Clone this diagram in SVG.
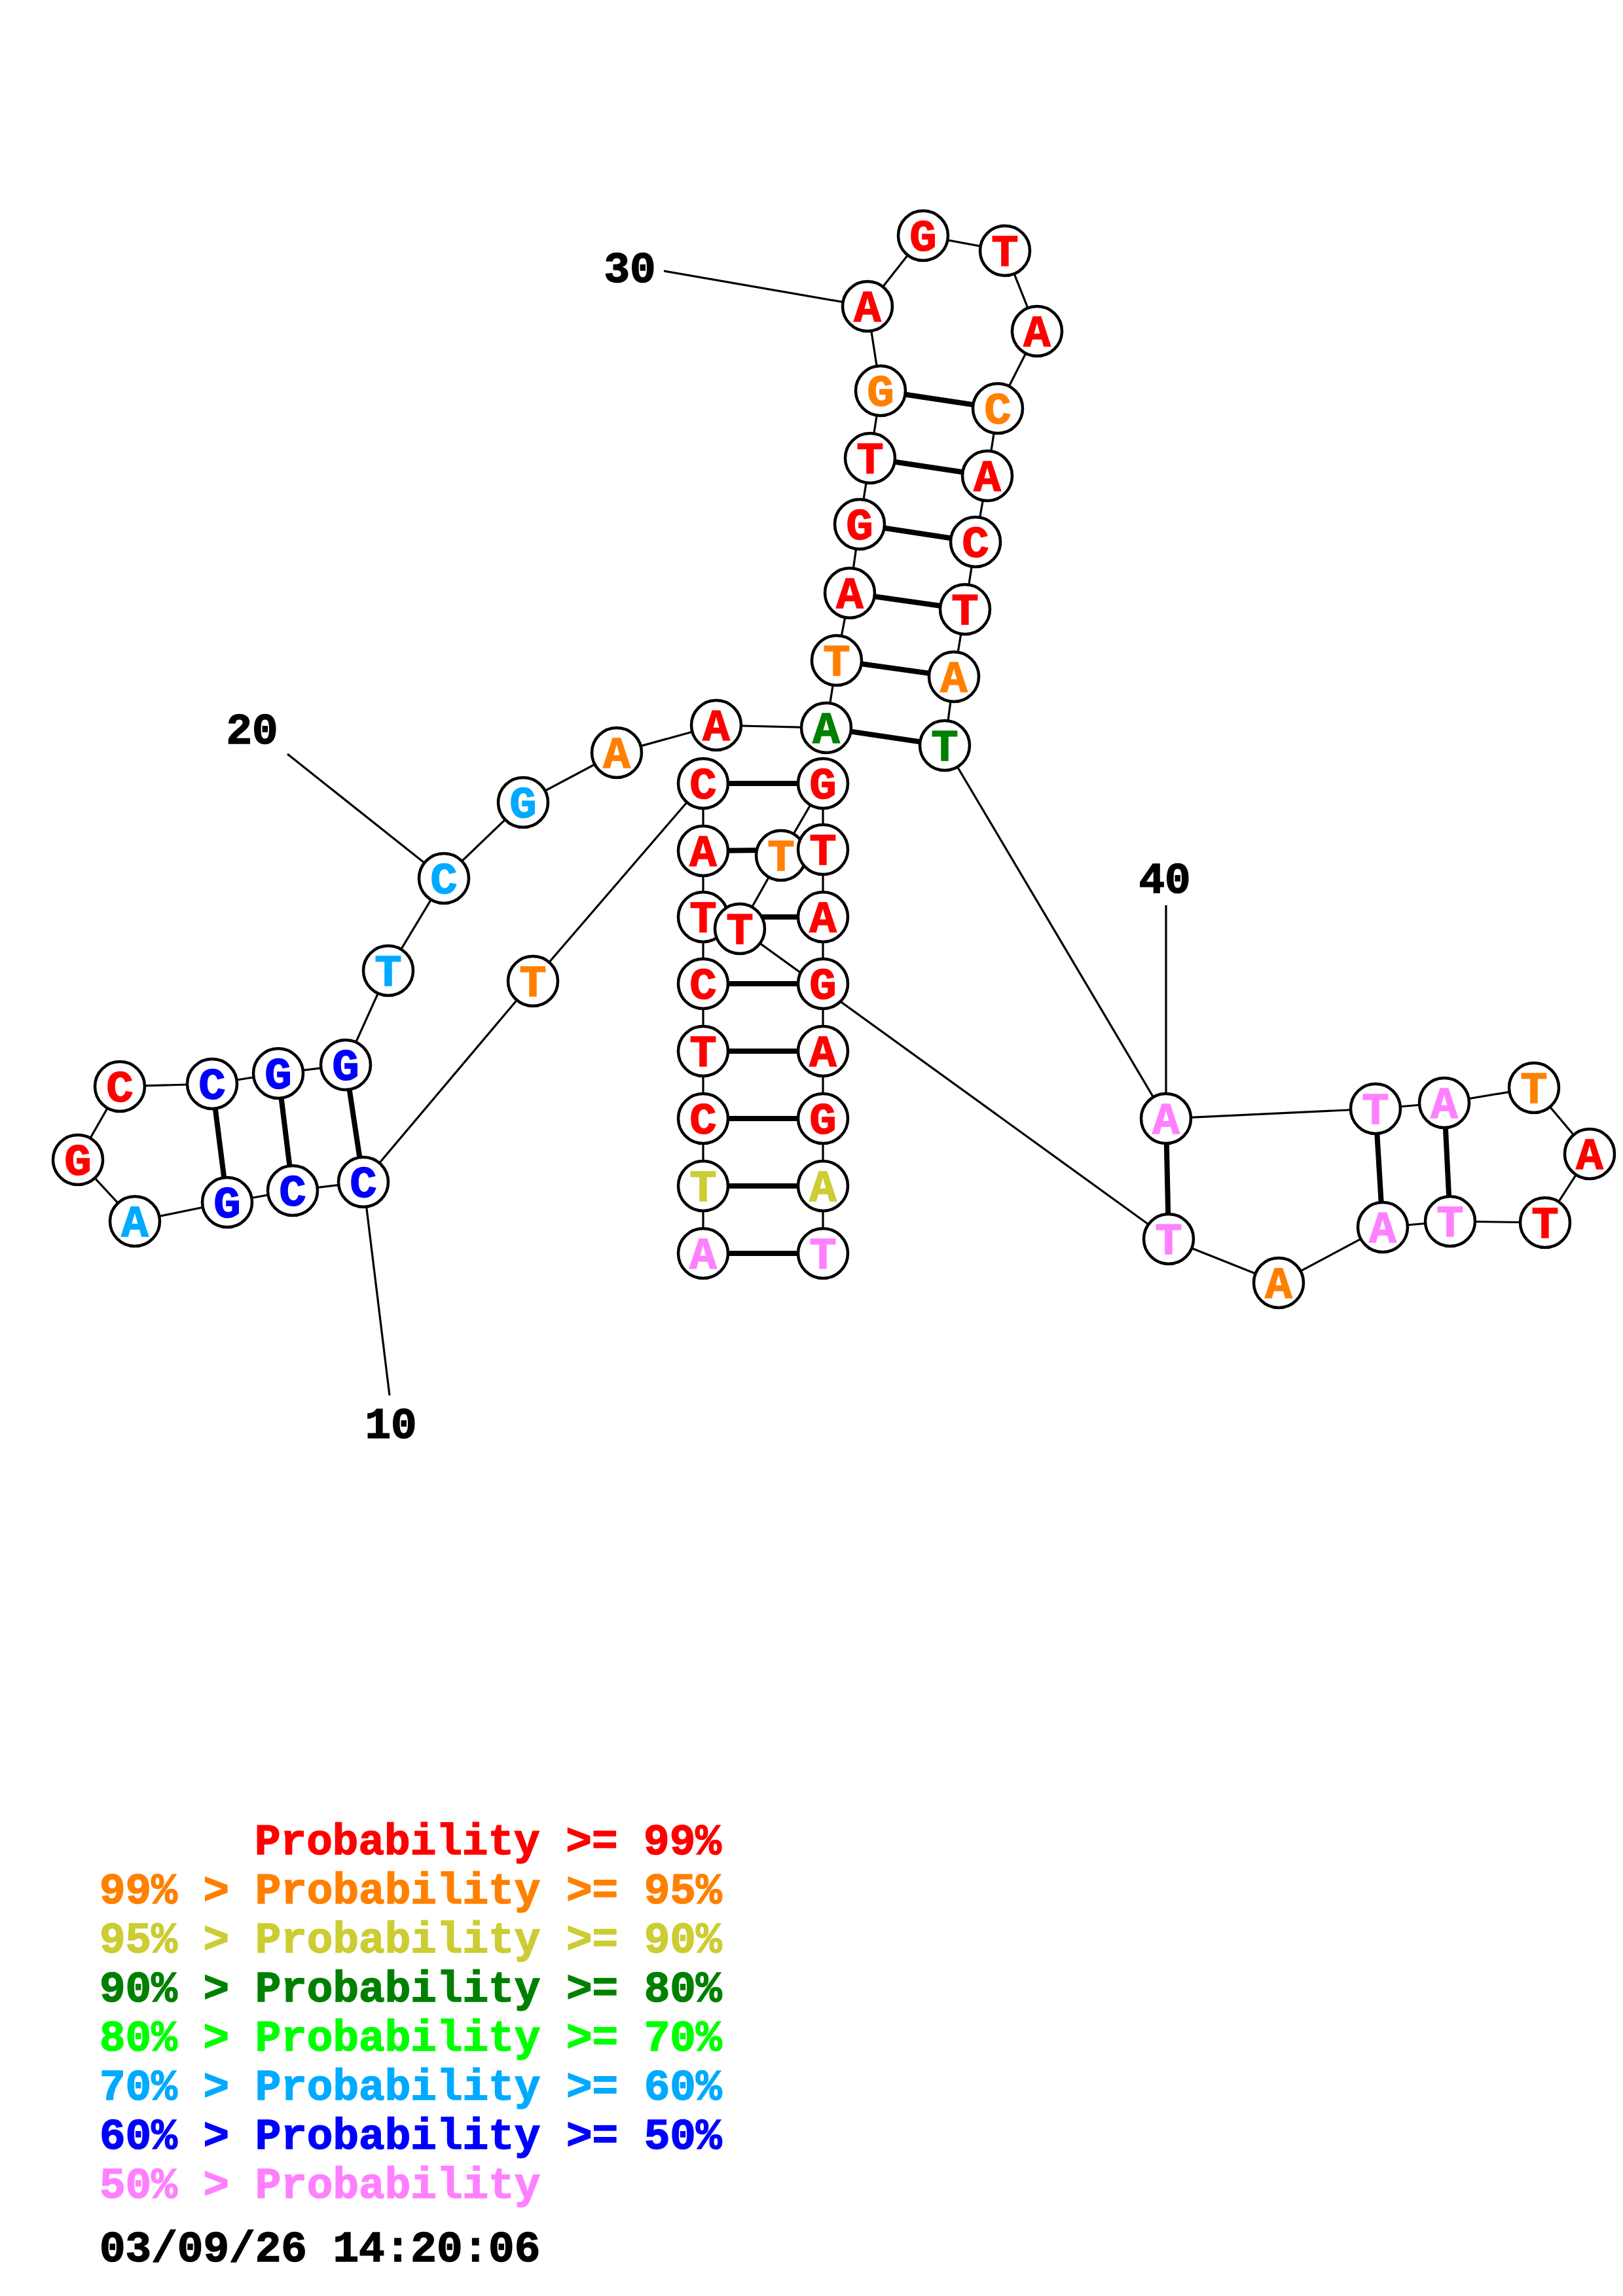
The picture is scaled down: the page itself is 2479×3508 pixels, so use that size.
<svg xmlns="http://www.w3.org/2000/svg" width="2479" height="3508" viewBox="0 0 2479 3508">
<style>
text{font-family:"Liberation Mono","Courier New",monospace;font-weight:bold;font-size:66px;stroke-width:1.5}
.n text{text-anchor:middle;font-size:69px}
.n circle{fill:#fff;stroke:#000;stroke-width:4.5}
.bb{stroke:#000;stroke-width:3.2;fill:none}
.bp{stroke:#000;stroke-width:8;fill:none}
.r{fill:#ff0000;stroke:#ff0000}.o{fill:#ff8000;stroke:#ff8000}.y{fill:#cccc33;stroke:#cccc33}.g{fill:#008000;stroke:#008000}.lg{fill:#00ff00;stroke:#00ff00}.lb{fill:#00aaff;stroke:#00aaff}.b{fill:#0000ff;stroke:#0000ff}.p{fill:#ff80ff;stroke:#ff80ff}.k{fill:#000;stroke:#000}
</style>
<rect width="2479" height="3508" fill="#fff"/>
<g id="connectors">
<g class="bb">
<polyline points="1074,1915 1074,1812 1074,1709 1074,1606 1074,1503 1074,1401 1074,1300 1074,1197 814,1499 555,1806 447,1819 347,1837 206,1866 119,1772 183,1660 324,1656 425,1640 528,1627 593,1483 678,1342 799,1226 942,1150 1094,1108 1262,1112 1278,1009 1298,906 1313,801 1329,700 1345,597 1325,468 1410,360 1535,383 1584,506 1524,624 1508,727 1490,828 1474,931 1457,1034 1443,1139 1781,1709 2101,1694 2206,1685 2343,1662 2428,1763 2360,1868 2215,1866 2112,1875 1953,1960 1785,1893 1130,1419 1193,1307 1257,1197 1257,1298 1257,1401 1257,1503 1257,1606 1257,1709 1257,1812 1257,1915"/>
<line x1="1014" y1="414" x2="1325" y2="468"/>
<line x1="439" y1="1152" x2="678" y2="1342"/>
<line x1="595" y1="2132" x2="555" y2="1806"/>
<line x1="1781" y1="1383" x2="1781" y2="1709"/>
</g>
<g class="bp">
<line x1="1074" y1="1197" x2="1257" y2="1197"/>
<line x1="1074" y1="1300" x2="1257" y2="1298"/>
<line x1="1074" y1="1401" x2="1257" y2="1401"/>
<line x1="1074" y1="1503" x2="1257" y2="1503"/>
<line x1="1074" y1="1606" x2="1257" y2="1606"/>
<line x1="1074" y1="1709" x2="1257" y2="1709"/>
<line x1="1074" y1="1812" x2="1257" y2="1812"/>
<line x1="1074" y1="1915" x2="1257" y2="1915"/>
<line x1="555" y1="1806" x2="528" y2="1627"/>
<line x1="447" y1="1819" x2="425" y2="1640"/>
<line x1="347" y1="1837" x2="324" y2="1656"/>
<line x1="1262" y1="1112" x2="1443" y2="1139"/>
<line x1="1278" y1="1009" x2="1457" y2="1034"/>
<line x1="1298" y1="906" x2="1474" y2="931"/>
<line x1="1313" y1="801" x2="1490" y2="828"/>
<line x1="1329" y1="700" x2="1508" y2="727"/>
<line x1="1345" y1="597" x2="1524" y2="624"/>
<line x1="1781" y1="1709" x2="1785" y2="1893"/>
<line x1="2101" y1="1694" x2="2112" y2="1875"/>
<line x1="2206" y1="1685" x2="2215" y2="1866"/>
</g>
</g>
<g id="n1" class="n"><circle cx="1074" cy="1915" r="38"/><text x="1074" y="1938" class="p">A</text></g>
<g id="n2" class="n"><circle cx="1074" cy="1812" r="38"/><text x="1074" y="1835" class="y">T</text></g>
<g id="n3" class="n"><circle cx="1074" cy="1709" r="38"/><text x="1074" y="1732" class="r">C</text></g>
<g id="n4" class="n"><circle cx="1074" cy="1606" r="38"/><text x="1074" y="1629" class="r">T</text></g>
<g id="n5" class="n"><circle cx="1074" cy="1503" r="38"/><text x="1074" y="1526" class="r">C</text></g>
<g id="n6" class="n"><circle cx="1074" cy="1401" r="38"/><text x="1074" y="1424" class="r">T</text></g>
<g id="n7" class="n"><circle cx="1074" cy="1300" r="38"/><text x="1074" y="1323" class="r">A</text></g>
<g id="n8" class="n"><circle cx="1074" cy="1197" r="38"/><text x="1074" y="1220" class="r">C</text></g>
<g id="n9" class="n"><circle cx="814" cy="1499" r="38"/><text x="814" y="1522" class="o">T</text></g>
<g id="n10" class="n"><circle cx="555" cy="1806" r="38"/><text x="555" y="1829" class="b">C</text></g>
<g id="n11" class="n"><circle cx="447" cy="1819" r="38"/><text x="447" y="1842" class="b">C</text></g>
<g id="n12" class="n"><circle cx="347" cy="1837" r="38"/><text x="347" y="1860" class="b">G</text></g>
<g id="n13" class="n"><circle cx="206" cy="1866" r="38"/><text x="206" y="1889" class="lb">A</text></g>
<g id="n14" class="n"><circle cx="119" cy="1772" r="38"/><text x="119" y="1795" class="r">G</text></g>
<g id="n15" class="n"><circle cx="183" cy="1660" r="38"/><text x="183" y="1683" class="r">C</text></g>
<g id="n16" class="n"><circle cx="324" cy="1656" r="38"/><text x="324" y="1679" class="b">C</text></g>
<g id="n17" class="n"><circle cx="425" cy="1640" r="38"/><text x="425" y="1663" class="b">G</text></g>
<g id="n18" class="n"><circle cx="528" cy="1627" r="38"/><text x="528" y="1650" class="b">G</text></g>
<g id="n19" class="n"><circle cx="593" cy="1483" r="38"/><text x="593" y="1506" class="lb">T</text></g>
<g id="n20" class="n"><circle cx="678" cy="1342" r="38"/><text x="678" y="1365" class="lb">C</text></g>
<g id="n21" class="n"><circle cx="799" cy="1226" r="38"/><text x="799" y="1249" class="lb">G</text></g>
<g id="n22" class="n"><circle cx="942" cy="1150" r="38"/><text x="942" y="1173" class="o">A</text></g>
<g id="n23" class="n"><circle cx="1094" cy="1108" r="38"/><text x="1094" y="1131" class="r">A</text></g>
<g id="n24" class="n"><circle cx="1262" cy="1112" r="38"/><text x="1262" y="1135" class="g">A</text></g>
<g id="n25" class="n"><circle cx="1278" cy="1009" r="38"/><text x="1278" y="1032" class="o">T</text></g>
<g id="n26" class="n"><circle cx="1298" cy="906" r="38"/><text x="1298" y="929" class="r">A</text></g>
<g id="n27" class="n"><circle cx="1313" cy="801" r="38"/><text x="1313" y="824" class="r">G</text></g>
<g id="n28" class="n"><circle cx="1329" cy="700" r="38"/><text x="1329" y="723" class="r">T</text></g>
<g id="n29" class="n"><circle cx="1345" cy="597" r="38"/><text x="1345" y="620" class="o">G</text></g>
<g id="n30" class="n"><circle cx="1325" cy="468" r="38"/><text x="1325" y="491" class="r">A</text></g>
<g id="n31" class="n"><circle cx="1410" cy="360" r="38"/><text x="1410" y="383" class="r">G</text></g>
<g id="n32" class="n"><circle cx="1535" cy="383" r="38"/><text x="1535" y="406" class="r">T</text></g>
<g id="n33" class="n"><circle cx="1584" cy="506" r="38"/><text x="1584" y="529" class="r">A</text></g>
<g id="n34" class="n"><circle cx="1524" cy="624" r="38"/><text x="1524" y="647" class="o">C</text></g>
<g id="n35" class="n"><circle cx="1508" cy="727" r="38"/><text x="1508" y="750" class="r">A</text></g>
<g id="n36" class="n"><circle cx="1490" cy="828" r="38"/><text x="1490" y="851" class="r">C</text></g>
<g id="n37" class="n"><circle cx="1474" cy="931" r="38"/><text x="1474" y="954" class="r">T</text></g>
<g id="n38" class="n"><circle cx="1457" cy="1034" r="38"/><text x="1457" y="1057" class="o">A</text></g>
<g id="n39" class="n"><circle cx="1443" cy="1139" r="38"/><text x="1443" y="1162" class="g">T</text></g>
<g id="n40" class="n"><circle cx="1781" cy="1709" r="38"/><text x="1781" y="1732" class="p">A</text></g>
<g id="n41" class="n"><circle cx="2101" cy="1694" r="38"/><text x="2101" y="1717" class="p">T</text></g>
<g id="n42" class="n"><circle cx="2206" cy="1685" r="38"/><text x="2206" y="1708" class="p">A</text></g>
<g id="n43" class="n"><circle cx="2343" cy="1662" r="38"/><text x="2343" y="1685" class="o">T</text></g>
<g id="n44" class="n"><circle cx="2428" cy="1763" r="38"/><text x="2428" y="1786" class="r">A</text></g>
<g id="n45" class="n"><circle cx="2360" cy="1868" r="38"/><text x="2360" y="1891" class="r">T</text></g>
<g id="n46" class="n"><circle cx="2215" cy="1866" r="38"/><text x="2215" y="1889" class="p">T</text></g>
<g id="n47" class="n"><circle cx="2112" cy="1875" r="38"/><text x="2112" y="1898" class="p">A</text></g>
<g id="n48" class="n"><circle cx="1953" cy="1960" r="38"/><text x="1953" y="1983" class="o">A</text></g>
<g id="n49" class="n"><circle cx="1785" cy="1893" r="38"/><text x="1785" y="1916" class="p">T</text></g>
<g id="n50" class="n"><circle cx="1130" cy="1419" r="38"/><text x="1130" y="1442" class="r">T</text></g>
<g id="n51" class="n"><circle cx="1193" cy="1307" r="38"/><text x="1193" y="1330" class="o">T</text></g>
<g id="n52" class="n"><circle cx="1257" cy="1197" r="38"/><text x="1257" y="1220" class="r">G</text></g>
<g id="n53" class="n"><circle cx="1257" cy="1298" r="38"/><text x="1257" y="1321" class="r">T</text></g>
<g id="n54" class="n"><circle cx="1257" cy="1401" r="38"/><text x="1257" y="1424" class="r">A</text></g>
<g id="n55" class="n"><circle cx="1257" cy="1503" r="38"/><text x="1257" y="1526" class="r">G</text></g>
<g id="n56" class="n"><circle cx="1257" cy="1606" r="38"/><text x="1257" y="1629" class="r">A</text></g>
<g id="n57" class="n"><circle cx="1257" cy="1709" r="38"/><text x="1257" y="1732" class="r">G</text></g>
<g id="n58" class="n"><circle cx="1257" cy="1812" r="38"/><text x="1257" y="1835" class="y">A</text></g>
<g id="n59" class="n"><circle cx="1257" cy="1915" r="38"/><text x="1257" y="1938" class="p">T</text></g>
<g id="labels">
<text x="962" y="431" class="k" text-anchor="middle">30</text>
<text x="385" y="1136" class="k" text-anchor="middle">20</text>
<text x="597" y="2197" class="k" text-anchor="middle">10</text>
<text x="1779" y="1364" class="k" text-anchor="middle">40</text>
</g>
<g id="legend">
<text x="389" y="2833" class="r">Probability &gt;= 99%</text>
<text x="152" y="2908" class="o">99% &gt; Probability &gt;= 95%</text>
<text x="152" y="2983" class="y">95% &gt; Probability &gt;= 90%</text>
<text x="152" y="3058" class="g">90% &gt; Probability &gt;= 80%</text>
<text x="152" y="3133" class="lg">80% &gt; Probability &gt;= 70%</text>
<text x="152" y="3208" class="lb">70% &gt; Probability &gt;= 60%</text>
<text x="152" y="3283" class="b">60% &gt; Probability &gt;= 50%</text>
<text x="152" y="3358" class="p">50% &gt; Probability</text>
<text x="152" y="3455" class="k">03/09/26 14:20:06</text>
</g>
</svg>
